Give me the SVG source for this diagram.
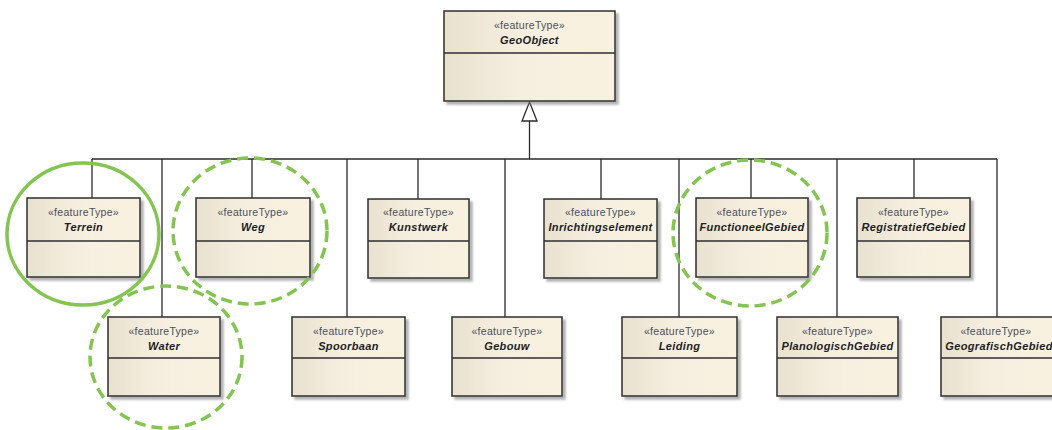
<svg xmlns="http://www.w3.org/2000/svg" width="1052" height="430" viewBox="0 0 1052 430">
  <style>
    .box { fill: url(#boxgrad); stroke: #2e2e2e; stroke-width: 1.5; filter: url(#shadow); }
    .div { stroke: #2e2e2e; stroke-width: 1.5; }
    .st { font-family: "Liberation Sans", Arial, sans-serif; font-size: 10.5px; letter-spacing: 0.3px; fill: #4a4f5a; text-anchor: middle; }
    .nm { font-family: "Liberation Sans", Arial, sans-serif; font-size: 11px; letter-spacing: 0.35px; font-weight: bold; font-style: italic; fill: #1e1e24; text-anchor: middle; }
    .conn { stroke: #2a2a2a; stroke-width: 1.3; fill: none; }
    .ring { fill: none; stroke: #84c451; stroke-width: 3.5; }
    .dash { stroke-dasharray: 11 6; }
  </style>
  <defs>
    <linearGradient id="boxgrad" x1="0" y1="0" x2="1" y2="0">
      <stop offset="0" stop-color="#e9e1cf"/>
      <stop offset="0.45" stop-color="#f6efe0"/>
      <stop offset="1" stop-color="#f9f1df"/>
    </linearGradient>
    <filter id="shadow" x="-10%" y="-10%" width="130%" height="130%">
      <feDropShadow dx="3" dy="3" stdDeviation="1.2" flood-color="#808080" flood-opacity="0.6"/>
    </filter>
  </defs>
  <rect width="1052" height="430" fill="#ffffff"/>

  <g id="connectors">
    <line class="conn" x1="92" y1="159" x2="997" y2="159"/>
    <line class="conn" x1="529.5" y1="159" x2="529.5" y2="121"/>
    <polygon points="529.5,102 522,121 537,121" fill="#ffffff" stroke="#2a2a2a" stroke-width="1.3"/>
    <line class="conn" x1="92" y1="159" x2="92" y2="198"/>
    <line class="conn" x1="162" y1="159" x2="162" y2="317"/>
    <line class="conn" x1="252" y1="159" x2="252" y2="198"/>
    <line class="conn" x1="347" y1="159" x2="347" y2="317"/>
    <line class="conn" x1="418" y1="159" x2="418" y2="199"/>
    <line class="conn" x1="505" y1="159" x2="505" y2="317"/>
    <line class="conn" x1="601" y1="159" x2="601" y2="199"/>
    <line class="conn" x1="679" y1="159" x2="679" y2="317"/>
    <line class="conn" x1="751" y1="159" x2="751" y2="198"/>
    <line class="conn" x1="837" y1="159" x2="837" y2="317"/>
    <line class="conn" x1="914" y1="159" x2="914" y2="198"/>
    <line class="conn" x1="997" y1="159" x2="997" y2="317"/>
  </g>

  <g id="GeoObject">
    <rect class="box" x="444" y="11" width="171" height="90"/>
    <line class="div" x1="444" y1="53" x2="615" y2="53"/>
    <text class="st" x="529.5" y="29">«featureType»</text>
    <text class="nm" x="529.5" y="44">GeoObject</text>
  </g>

  <g id="Terrein">
    <rect class="box" x="27" y="198" width="113" height="79"/>
    <line class="div" x1="27" y1="241" x2="140" y2="241"/>
    <text class="st" x="83.5" y="216">«featureType»</text>
    <text class="nm" x="83.5" y="231">Terrein</text>
  </g>
  <g id="Weg">
    <rect class="box" x="196" y="198" width="114" height="79"/>
    <line class="div" x1="196" y1="241" x2="310" y2="241"/>
    <text class="st" x="253" y="216">«featureType»</text>
    <text class="nm" x="253" y="231">Weg</text>
  </g>
  <g id="Kunstwerk">
    <rect class="box" x="368" y="199" width="101" height="79"/>
    <line class="div" x1="368" y1="241" x2="469" y2="241"/>
    <text class="st" x="418.5" y="216">«featureType»</text>
    <text class="nm" x="418.5" y="231">Kunstwerk</text>
  </g>
  <g id="Inrichtingselement">
    <rect class="box" x="544" y="199" width="113" height="79"/>
    <line class="div" x1="544" y1="241" x2="657" y2="241"/>
    <text class="st" x="600.5" y="216">«featureType»</text>
    <text class="nm" x="600.5" y="231">Inrichtingselement</text>
  </g>
  <g id="FunctioneelGebied">
    <rect class="box" x="696" y="198" width="112" height="79"/>
    <line class="div" x1="696" y1="241" x2="808" y2="241"/>
    <text class="st" x="752" y="216">«featureType»</text>
    <text class="nm" x="752" y="231">FunctioneelGebied</text>
  </g>
  <g id="RegistratiefGebied">
    <rect class="box" x="857" y="198" width="113" height="79"/>
    <line class="div" x1="857" y1="241" x2="970" y2="241"/>
    <text class="st" x="913.5" y="216">«featureType»</text>
    <text class="nm" x="913.5" y="231">RegistratiefGebied</text>
  </g>

  <g id="Water">
    <rect class="box" x="108" y="317" width="112" height="79"/>
    <line class="div" x1="108" y1="358" x2="220" y2="358"/>
    <text class="st" x="164" y="335">«featureType»</text>
    <text class="nm" x="164" y="350">Water</text>
  </g>
  <g id="Spoorbaan">
    <rect class="box" x="292" y="317" width="113" height="79"/>
    <line class="div" x1="292" y1="358" x2="405" y2="358"/>
    <text class="st" x="348.5" y="335">«featureType»</text>
    <text class="nm" x="348.5" y="350">Spoorbaan</text>
  </g>
  <g id="Gebouw">
    <rect class="box" x="452" y="317" width="110" height="79"/>
    <line class="div" x1="452" y1="358" x2="562" y2="358"/>
    <text class="st" x="507" y="335">«featureType»</text>
    <text class="nm" x="507" y="350">Gebouw</text>
  </g>
  <g id="Leiding">
    <rect class="box" x="622" y="317" width="115" height="79"/>
    <line class="div" x1="622" y1="358" x2="737" y2="358"/>
    <text class="st" x="679.5" y="335">«featureType»</text>
    <text class="nm" x="679.5" y="350">Leiding</text>
  </g>
  <g id="PlanologischGebied">
    <rect class="box" x="777" y="317" width="121" height="79"/>
    <line class="div" x1="777" y1="358" x2="898" y2="358"/>
    <text class="st" x="837.5" y="335">«featureType»</text>
    <text class="nm" x="837.5" y="350">PlanologischGebied</text>
  </g>
  <g id="GeografischGebied">
    <rect class="box" x="941" y="317" width="114" height="79"/>
    <line class="div" x1="941" y1="358" x2="1055" y2="358"/>
    <text class="st" x="996" y="335">«featureType»</text>
    <text class="nm" x="999" y="350">GeografischGebied</text>
  </g>

  <g id="highlights">
    <ellipse class="ring" cx="83" cy="234" rx="76" ry="71"/>
    <ellipse class="ring dash" cx="250" cy="231" rx="77" ry="73"/>
    <ellipse class="ring dash" cx="166" cy="357" rx="76" ry="71"/>
    <ellipse class="ring dash" cx="750" cy="233" rx="77" ry="73"/>
  </g>
</svg>
